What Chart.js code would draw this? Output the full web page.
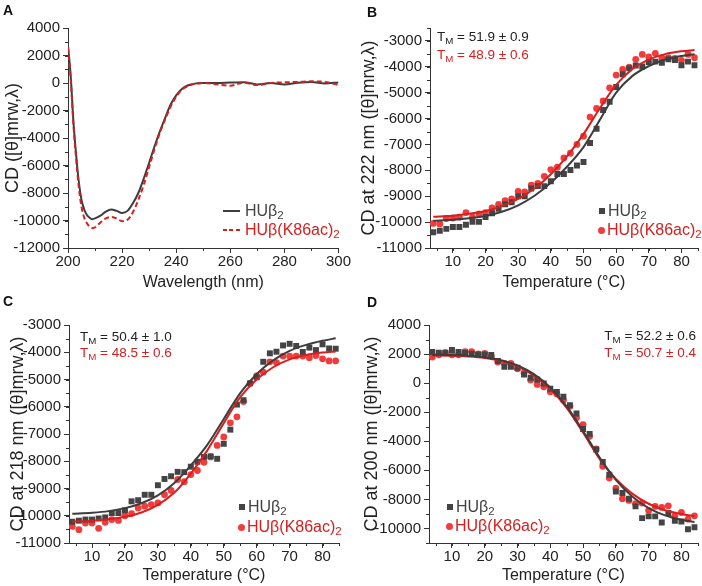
<!DOCTYPE html>
<html>
<head>
<meta charset="utf-8">
<script src="https://cdn.jsdelivr.net/npm/chart.js@4.4.1/dist/chart.umd.min.js"></script>
<style>
  body { margin: 0; background: #fff; font-family: "Liberation Sans", Arial, sans-serif; }
  #fig { position: relative; width: 702px; height: 586px; overflow: hidden; background: #fff; }
  canvas { position: absolute; }
  .tag { position: absolute; font-weight: bold; font-size: 14px; line-height: 14px; color: #111; }
  .row { position: absolute; height: 18px; display: flex; align-items: center; font-size: 16px; white-space: nowrap; }
  .tm { position: absolute; height: 16px; line-height: 16px; font-size: 13.5px; white-space: nowrap; }
  sub { font-size: 0.72em; vertical-align: -0.3em; line-height: 0; }
  .sq { width: 6px; height: 6px; background: #444; margin-right: 3px; }
  .dot { width: 7px; height: 7px; border-radius: 50%; background: #f23c3c; margin-right: 2px; }
  .ln { width: 17px; height: 2px; background: #3d3d3d; margin-right: 5px; }
  .dash { width: 17px; height: 2px; margin-right: 5px;
          background: repeating-linear-gradient(90deg, #d81e1e 0 4px, transparent 4px 6.5px); }
  .k { color: #444; }
  .r { color: #d42020; }
</style>
</head>
<body>
<div id="fig">
  <canvas id="cA" width="351" height="293" style="left:0;top:0"></canvas>
  <canvas id="cB" width="351" height="293" style="left:351px;top:0"></canvas>
  <canvas id="cC" width="351" height="293" style="left:0;top:293px"></canvas>
  <canvas id="cD" width="351" height="293" style="left:351px;top:293px"></canvas>

  <div class="tag" style="left:3px;top:3px">A</div>
  <div class="tag" style="left:367px;top:5px">B</div>
  <div class="tag" style="left:3px;top:294px">C</div>
  <div class="tag" style="left:367px;top:295px">D</div>

  <div class="row k" style="left:223px;top:202px"><span class="ln"></span><span>HUβ<sub>2</sub></span></div>
  <div class="row r" style="left:223px;top:221px"><span class="dash"></span><span>HUβ(K86ac)<sub>2</sub></span></div>

  <div class="tm" style="left:437px;top:29px;color:#222">T<sub>M</sub> = 51.9 ± 0.9</div>
  <div class="tm r" style="left:437px;top:47px">T<sub>M</sub> = 48.9 ± 0.6</div>
  <div class="row k" style="left:599px;top:202px"><span class="sq"></span><span>HUβ<sub>2</sub></span></div>
  <div class="row r" style="left:598px;top:221px"><span class="dot"></span><span>HUβ(K86ac)<sub>2</sub></span></div>

  <div class="tm" style="left:80px;top:329px;color:#222">T<sub>M</sub> = 50.4 ± 1.0</div>
  <div class="tm r" style="left:80px;top:345px">T<sub>M</sub> = 48.5 ± 0.6</div>
  <div class="row k" style="left:239px;top:498px"><span class="sq"></span><span>HUβ<sub>2</sub></span></div>
  <div class="row r" style="left:238px;top:518px"><span class="dot"></span><span>HUβ(K86ac)<sub>2</sub></span></div>

  <div class="tm" style="right:6px;top:328px;color:#222">T<sub>M</sub> = 52.2 ± 0.6</div>
  <div class="tm r" style="right:6px;top:345px">T<sub>M</sub> = 50.7 ± 0.4</div>
  <div class="row k" style="left:447px;top:498px"><span class="sq"></span><span>HUβ<sub>2</sub></span></div>
  <div class="row r" style="left:446px;top:517px"><span class="dot"></span><span>HUβ(K86ac)<sub>2</sub></span></div>
</div>

<script>
// panel A: far-UV CD spectra
const wavelength = [200,201,202,203,204,205,206,207,208,209,210,212,214,216,218,220,222,224,226,228,230,
  232,234,236,238,240,242,244,246,248,250,255,260,265,270,275,280,285,290,295,300];
const specWt = [2700,500,-2800,-5200,-7200,-8500,-9200,-9600,-9800,-9900,-9850,-9650,-9350,-9200,-9300,-9450,-9300,-8750,-8000,-6950,-5800,
  -4600,-3500,-2500,-1550,-900,-450,-200,-80,-20,0,0,30,60,-100,0,-100,20,80,-30,40];
const specK86 = [2600,300,-3000,-5500,-7600,-9000,-9800,-10200,-10450,-10550,-10500,-10150,-9850,-9750,-9850,-10050,-9950,-9400,-8500,-7400,-6100,
  -4800,-3600,-2600,-1700,-1000,-500,-250,-100,-30,0,-100,-200,20,-150,0,50,80,120,80,-150];
const wlTicks = [200,220,240,260,280,300];
const specTicks = [4000,2000,0,-2000,-4000,-6000,-8000,-10000,-12000];

// melting curves, measured every 2 °C
const temps = [4,6,8,10,12,14,16,18,20,22,24,26,28,30,32,34,36,38,40,42,44,46,48,50,52,54,56,58,60,62,64,66,68,70,72,74,76,78,80,82,84];
const fitTemps = [4,10,15,20,25,30,35,40,45,50,55,60,65,70,75,80,84];
const tempTicks = [10,20,30,40,50,60,70,80];

// B: 222 nm
const cd222Wt = [-10390,-10330,-10260,-10190,-10190,-10100,-9990,-9990,-9800,-9660,-9480,-9310,-9230,-9000,-9000,-8700,-8610,-8610,-8420,-8140,
  -8140,-7990,-7810,-7680,-6940,-6390,-5670,-5350,-4780,-4290,-4060,-3950,-3990,-3810,-3800,-3840,-3710,-3740,-3940,-3800,-3940];
const cd222K86 = [-10050,-10070,-9860,-9840,-9810,-9630,-9810,-9680,-9630,-9450,-9320,-9170,-9100,-8810,-8830,-8570,-8500,-8230,-7970,-7880,
  -7520,-7340,-7000,-6680,-5940,-5610,-5320,-4810,-4320,-4100,-4010,-3710,-3520,-3620,-3480,-3650,-3650,-3670,-3750,-3520,-3650];
const fit222Wt = [-9950,-9910,-9850,-9760,-9600,-9350,-8980,-8480,-7850,-7100,-6050,-5000,-4350,-3970,-3720,-3580,-3510];
const fit222K86 = [-9790,-9750,-9680,-9570,-9380,-9100,-8700,-8150,-7450,-6600,-5600,-4700,-4080,-3720,-3510,-3400,-3350];
const ticks222 = [-3000,-4000,-5000,-6000,-7000,-8000,-9000,-10000,-11000];

// C: 218 nm
const cd218Wt = [-10220,-10180,-10140,-10140,-10100,-10060,-9900,-9900,-9800,-9470,-9430,-9230,-9230,-8880,-8650,-8550,-8390,-8400,-8200,-8020,
  -7840,-7820,-7910,-7360,-6840,-5920,-5760,-5140,-4920,-4350,-4040,-3980,-3750,-3690,-3770,-3990,-3830,-3920,-3710,-3860,-3870];
const cd218K86 = [-10390,-10510,-10270,-10270,-10460,-10240,-10140,-10170,-10000,-9920,-9720,-9650,-9590,-9530,-9230,-9070,-8670,-8750,-8490,-8340,
  -8040,-7840,-7420,-7110,-6590,-6370,-5810,-5140,-4870,-4730,-4350,-4380,-4140,-4140,-4140,-4140,-4200,-4120,-4240,-4320,-4320];
const fit218Wt = [-9930,-9890,-9830,-9720,-9540,-9250,-8800,-8150,-7400,-6450,-5500,-4800,-4300,-3950,-3730,-3580,-3490];
const fit218K86 = [-10210,-10180,-10130,-10040,-9880,-9600,-9150,-8450,-7600,-6600,-5650,-5000,-4550,-4260,-4100,-4010,-3970];
const ticks218 = [-3000,-4000,-5000,-6000,-7000,-8000,-9000,-10000,-11000];

// D: 200 nm
const cd200Wt = [2140,2090,2090,2280,2140,2090,2020,1980,1980,1930,1520,1130,1130,1060,600,370,250,-20,-390,-600,
  -940,-1520,-2090,-3150,-3490,-4570,-5420,-6300,-7450,-7560,-7950,-8480,-9290,-9170,-9170,-9590,-8940,-9470,-9520,-10050,-9910];
const cd200K86 = [1790,1950,2090,1950,1950,2160,2160,2020,2050,1860,1450,1360,1360,990,710,210,-90,-250,-600,-740,
  -1170,-1590,-2390,-2850,-3660,-4530,-5720,-6530,-7220,-7950,-8070,-8300,-8250,-8760,-8480,-8550,-8440,-9130,-8900,-9360,-9130];
const fit200Wt = [1950,1930,1880,1780,1580,1220,620,-300,-1600,-3300,-5100,-6650,-7800,-8600,-9100,-9400,-9550];
const fit200K86 = [1900,1880,1830,1730,1530,1150,520,-400,-1700,-3400,-5200,-6600,-7600,-8300,-8750,-9000,-9150];
const ticks200 = [4000,2000,0,-2000,-4000,-6000,-8000,-10000];

const family = "'Liberation Sans', Arial, sans-serif";
const grey = "#3d3d3d";
const red = "#d81e1e";
const redPt = "#f23c3c";

function pts(xs, ys) {
  return xs.map((x, i) => ({ x: x, y: ys[i] }));
}

// Origin style short minor ticks
const minorTicks = {
  id: "minorTicks",
  afterDraw(chart, args, o) {
    const ctx = chart.ctx, sx = chart.scales.x, sy = chart.scales.y;
    ctx.save();
    ctx.strokeStyle = "#333";
    ctx.lineWidth = 1;
    ctx.beginPath();
    for (let v = o.x0; v <= sx.max + 1e-6; v += o.xStep) {
      const px = Math.round(sx.getPixelForValue(v)) + 0.5;
      ctx.moveTo(px, sy.bottom);
      ctx.lineTo(px, sy.bottom + 3);
    }
    for (let v = o.y0; v <= sy.max + 1e-6; v += o.yStep) {
      const py = Math.round(sy.getPixelForValue(v)) + 0.5;
      ctx.moveTo(sx.left - 3, py);
      ctx.lineTo(sx.left, py);
    }
    ctx.stroke();
    ctx.restore();
  }
};

function axis(pos, min, max, ticks, title, size, titlePad) {
  return {
    type: "linear",
    position: pos,
    min: min,
    max: max,
    afterBuildTicks: s => { s.ticks = ticks.map(v => ({ value: v })); },
    afterFit: s => { if (pos === "bottom") s.height = size; else s.width = size; },
    grid: { drawOnChartArea: false, tickLength: 5, tickColor: "#333" },
    border: { display: true, color: "#333", width: 1 },
    ticks: {
      color: "#222", font: { family: family, size: 15 }, padding: pos === "bottom" ? 0 : 3,
      maxRotation: 0, autoSkip: false, callback: v => String(v)
    },
    title: {
      display: true, text: title, color: "#222",
      font: { family: family, size: pos === "bottom" ? 16 : 18 },
      padding: pos === "bottom" ? { top: 0, bottom: 1 } : { top: titlePad, bottom: 0 }
    }
  };
}

function scatterSet(ys, isWt) {
  return {
    data: pts(temps, ys), showLine: false, order: 2,
    pointStyle: isWt ? "rect" : "circle",
    pointRadius: isWt ? 4.2 : 3.4, pointHoverRadius: 0,
    backgroundColor: isWt ? "#444" : redPt, borderWidth: 0
  };
}

function fitSet(ys, isWt) {
  return {
    data: pts(fitTemps, ys), showLine: true, order: 1, pointRadius: 0,
    borderColor: isWt ? grey : red, borderWidth: 2, cubicInterpolationMode: "monotone", fill: false
  };
}

function makeChart(id, datasets, x, y, pad, minor) {
  new Chart(document.getElementById(id), {
    type: "scatter",
    data: { datasets: datasets },
    options: {
      responsive: false, animation: false, devicePixelRatio: 1,
      layout: { padding: pad },
      scales: { x: x, y: y },
      plugins: { legend: { display: false }, tooltip: { enabled: false }, minorTicks: minor }
    },
    plugins: [minorTicks]
  });
}

// A
makeChart("cA", [
  { data: pts(wavelength, specWt), showLine: true, pointRadius: 0, borderColor: grey, borderWidth: 2,
    cubicInterpolationMode: "monotone", order: 2 },
  { data: pts(wavelength, specK86), showLine: true, pointRadius: 0, borderColor: red, borderWidth: 2,
    borderDash: [5, 3], cubicInterpolationMode: "monotone", order: 1 }
],
  axis("bottom", 200, 300, wlTicks, "Wavelength (nm)", 45),
  axis("left", -12000, 4000, specTicks, "CD ([θ]mrw,λ)", 68, 2),
  { left: 0, top: 28, right: 11, bottom: 0 },
  { x0: 200, xStep: 10, y0: -12000, yStep: 1000 });

// B
makeChart("cB", [
  fitSet(fit222Wt, true), fitSet(fit222K86, false),
  scatterSet(cd222Wt, true), scatterSet(cd222K86, false)
],
  axis("bottom", 3, 85, tempTicks, "Temperature (°C)", 45),
  axis("left", -11000, -2500, ticks222, "CD at 222 nm ([θ]mrw,λ)", 79, 7),
  { left: 0, top: 28, right: 2, bottom: 0 },
  { x0: 5, xStep: 5, y0: -11000, yStep: 500 });

// C
makeChart("cC", [
  fitSet(fit218Wt, true), fitSet(fit218K86, false),
  scatterSet(cd218Wt, true), scatterSet(cd218K86, false)
],
  axis("bottom", 3, 85, tempTicks, "Temperature (°C)", 43),
  axis("left", -11000, -3000, ticks218, "CD at 218 nm ([θ]mrw,λ)", 69, 7),
  { left: 0, top: 32, right: 12, bottom: 0 },
  { x0: 5, xStep: 5, y0: -11000, yStep: 500 });

// D
makeChart("cD", [
  fitSet(fit200Wt, true), fitSet(fit200K86, false),
  scatterSet(cd200Wt, true), scatterSet(cd200K86, false)
],
  axis("bottom", 3, 85, tempTicks, "Temperature (°C)", 43),
  axis("left", -11000, 4000, ticks200, "CD at 200 nm ([θ]mrw,λ)", 78, 10),
  { left: 0, top: 32, right: 2, bottom: 0 },
  { x0: 5, xStep: 5, y0: -11000, yStep: 1000 });
</script>
</body>
</html>
